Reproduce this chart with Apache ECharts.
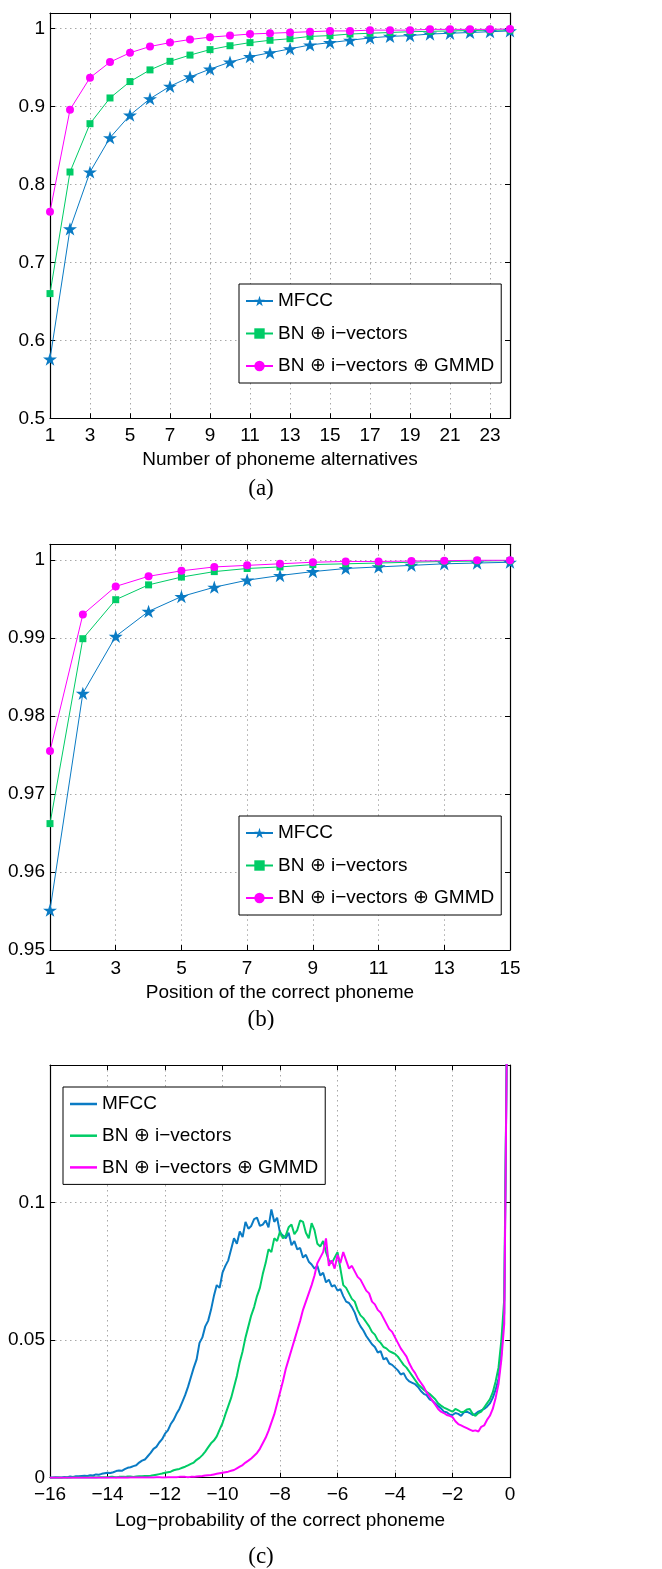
<!DOCTYPE html>
<html>
<head>
<meta charset="utf-8">
<script src="https://cdn.jsdelivr.net/npm/echarts@6/dist/echarts.min.js"></script>
<style>
html,body{margin:0;padding:0;background:#fff;}
.p{position:absolute;left:0;width:662px;}
</style>
</head>
<body>
<div id="pa" class="p" style="top:0;height:500px"></div>
<div id="pb" class="p" style="top:500px;height:530px"></div>
<div id="pc" class="p" style="top:1030px;height:539px"></div>
<script>
// ---------- DATA ----------
const seriesNames = ['MFCC', 'BN \u2295 i\u2212vectors', 'BN \u2295 i\u2212vectors \u2295 GMMD'];

// (a) Number of phoneme alternatives
const altX = [1,2,3,4,5,6,7,8,9,10,11,12,13,14,15,16,17,18,19,20,21,22,23,24];
const altMFCC = [0.576,0.743,0.816,0.860,0.889,0.910,0.926,0.938,0.948,0.957,0.964,0.969,0.974,0.979,0.982,0.985,0.988,0.990,0.991,0.993,0.994,0.995,0.996,0.997];
const altBN   = [0.660,0.816,0.878,0.911,0.932,0.947,0.958,0.966,0.973,0.978,0.982,0.985,0.987,0.990,0.991,0.993,0.994,0.995,0.996,0.9965,0.997,0.9975,0.998,0.998];
const altGMMD = [0.765,0.896,0.937,0.957,0.969,0.977,0.982,0.986,0.989,0.991,0.993,0.994,0.995,0.996,0.997,0.997,0.998,0.998,0.998,0.999,0.999,0.999,0.999,0.9995];

// (b) Position of the correct phoneme
const posX = [1,2,3,4,5,6,7,8,9,10,11,12,13,14,15];
const posMFCC = [0.9551,0.9829,0.9902,0.9934,0.9953,0.9965,0.9974,0.9980,0.9985,0.9989,0.9991,0.9993,0.9995,0.9996,0.9997];
const posBN   = [0.9662,0.9899,0.9949,0.9968,0.9978,0.9985,0.9989,0.9991,0.9994,0.9995,0.9996,0.9997,0.9998,0.99985,0.9999];
const posGMMD = [0.9755,0.9930,0.9966,0.9979,0.9986,0.9991,0.9993,0.9995,0.9997,0.9998,0.9998,0.99985,0.9999,0.99995,0.99995];

// (c) Log-probability of the correct phoneme, sampled every 0.1 from -16 to -0.1
const logX = Array.from({length:160}, (_, i) => +(-16 + 0.1 * i).toFixed(1));
const logMFCC = [
 0.0000,0.0001,0.0002,0.0001,0.0001,0.0003,0.0002,0.0004,0.0003,0.0005,
 0.0005,0.0006,0.0007,0.0006,0.0009,0.0008,0.0012,0.0011,0.0014,0.0016,
 0.0018,0.0017,0.0020,0.0024,0.0026,0.0025,0.0031,0.0036,0.0038,0.0042,
 0.0045,0.0055,0.0062,0.0066,0.0078,0.0090,0.0105,0.0112,0.0128,0.0140,
 0.0160,0.0172,0.0195,0.0210,0.0232,0.0250,0.0275,0.0300,0.0330,0.0365,
 0.0400,0.0430,0.0490,0.0510,0.0550,0.0570,0.0610,0.0660,0.0700,0.0690,
 0.0745,0.0770,0.0790,0.0830,0.0870,0.0850,0.0895,0.0875,0.0930,0.0905,
 0.0915,0.0940,0.0945,0.0915,0.0920,0.0935,0.0910,0.0975,0.0930,0.0945,
 0.0890,0.0880,0.0870,0.0890,0.0845,0.0860,0.0830,0.0835,0.0800,0.0810,
 0.0785,0.0775,0.0760,0.0770,0.0735,0.0745,0.0710,0.0720,0.0695,0.0700,
 0.0680,0.0685,0.0660,0.0640,0.0635,0.0620,0.0600,0.0570,0.0550,0.0535,
 0.0515,0.0500,0.0485,0.0475,0.0455,0.0460,0.0430,0.0435,0.0415,0.0410,
 0.0400,0.0390,0.0375,0.0380,0.0360,0.0350,0.0345,0.0340,0.0330,0.0315,
 0.0305,0.0300,0.0285,0.0280,0.0270,0.0260,0.0252,0.0240,0.0238,0.0230,
 0.0228,0.0235,0.0232,0.0225,0.0238,0.0240,0.0235,0.0228,0.0232,0.0240,
 0.0245,0.0250,0.0258,0.0270,0.0290,0.0320,0.0360,0.0450,0.0600,0.1700];
const logBN = [
 0.0000,0.0000,0.0000,0.0001,0.0000,0.0000,0.0001,0.0000,0.0001,0.0001,
 0.0001,0.0001,0.0001,0.0002,0.0001,0.0002,0.0001,0.0002,0.0002,0.0002,
 0.0002,0.0003,0.0003,0.0002,0.0003,0.0003,0.0003,0.0004,0.0004,0.0003,
 0.0004,0.0005,0.0005,0.0006,0.0006,0.0007,0.0009,0.0011,0.0013,0.0015,
 0.0018,0.0020,0.0022,0.0027,0.0030,0.0032,0.0036,0.0040,0.0045,0.0050,
 0.0055,0.0065,0.0072,0.0082,0.0095,0.0110,0.0125,0.0135,0.0150,0.0175,
 0.0198,0.0230,0.0260,0.0290,0.0330,0.0370,0.0420,0.0460,0.0510,0.0550,
 0.0590,0.0620,0.0660,0.0690,0.0740,0.0780,0.0830,0.0820,0.0870,0.0860,
 0.0895,0.0870,0.0880,0.0910,0.0920,0.0885,0.0900,0.0935,0.0930,0.0890,
 0.0870,0.0925,0.0900,0.0850,0.0840,0.0860,0.0820,0.0790,0.0780,0.0800,
 0.0820,0.0760,0.0700,0.0690,0.0670,0.0650,0.0640,0.0610,0.0590,0.0580,
 0.0565,0.0550,0.0530,0.0520,0.0500,0.0490,0.0475,0.0470,0.0460,0.0455,
 0.0450,0.0440,0.0425,0.0410,0.0400,0.0385,0.0370,0.0355,0.0340,0.0330,
 0.0320,0.0312,0.0305,0.0295,0.0285,0.0270,0.0262,0.0255,0.0250,0.0245,
 0.0240,0.0250,0.0245,0.0238,0.0240,0.0248,0.0250,0.0232,0.0225,0.0235,
 0.0240,0.0255,0.0270,0.0285,0.0310,0.0350,0.0400,0.0500,0.0650,0.1700];
const logGMMD = [
 0.0000,0.0000,0.0000,0.0000,0.0000,0.0000,0.0000,0.0000,0.0000,0.0000,
 0.0000,0.0000,0.0000,0.0000,0.0000,0.0000,0.0000,0.0000,0.0000,0.0000,
 0.0000,0.0000,0.0000,0.0000,0.0001,0.0000,0.0001,0.0000,0.0001,0.0001,
 0.0001,0.0001,0.0001,0.0001,0.0001,0.0001,0.0001,0.0002,0.0002,0.0001,
 0.0001,0.0002,0.0002,0.0002,0.0002,0.0003,0.0003,0.0003,0.0002,0.0003,
 0.0003,0.0004,0.0005,0.0006,0.0008,0.0009,0.0010,0.0012,0.0014,0.0016,
 0.0018,0.0020,0.0022,0.0025,0.0028,0.0034,0.0040,0.0046,0.0055,0.0062,
 0.0070,0.0080,0.0090,0.0105,0.0125,0.0145,0.0170,0.0200,0.0230,0.0270,
 0.0310,0.0350,0.0395,0.0430,0.0465,0.0500,0.0535,0.0570,0.0610,0.0640,
 0.0670,0.0700,0.0735,0.0780,0.0800,0.0820,0.0870,0.0770,0.0790,0.0760,
 0.0810,0.0780,0.0820,0.0790,0.0760,0.0770,0.0750,0.0730,0.0720,0.0700,
 0.0680,0.0670,0.0640,0.0630,0.0610,0.0600,0.0580,0.0560,0.0540,0.0530,
 0.0510,0.0490,0.0470,0.0455,0.0440,0.0415,0.0395,0.0380,0.0360,0.0345,
 0.0330,0.0310,0.0295,0.0280,0.0265,0.0250,0.0240,0.0235,0.0228,0.0225,
 0.0220,0.0205,0.0195,0.0190,0.0185,0.0180,0.0175,0.0170,0.0172,0.0168,
 0.0185,0.0190,0.0210,0.0225,0.0250,0.0290,0.0340,0.0430,0.0560,0.1700];

// ---------- STYLE ----------
const FONT = "'Liberation Sans',Arial,sans-serif";
const FS = 19;
const SERIF = "'Liberation Serif','DejaVu Serif',serif";
const COLORS = ['#0a7bc4', '#00cc66', '#ff00ff'];
const STAR = 'path://M50,0 L61.8,35.4 L99,35.4 L68.9,57.3 L80.4,92.7 L50,70.8 L19.6,92.7 L31.1,57.3 L1,35.4 L38.2,35.4 Z';
const SYMBOLS = [STAR, 'rect', 'circle'];
const SYMSIZE = [14, 7, 8];

function zip(xs, ys) { return xs.map((x, i) => [x, ys[i]]); }
function fmtNum(v) { return String(+v.toFixed(3)).replace('-', '\u2212'); }

function axisPair(kind, opt) {
  const base = {
    type: 'value', min: opt.min, max: opt.max, interval: opt.interval,
    axisLine: {show: true, onZero: false, lineStyle: {color: '#000', width: 1.2}},
    axisTick: {show: true, inside: true, length: 5, lineStyle: {color: '#000'}},
  };
  const main = Object.assign({}, base, {
    position: kind === 'x' ? 'bottom' : 'left',
    axisLabel: {show: true, color: '#000', fontFamily: FONT, fontSize: FS,
      margin: opt.margin, showMaxLabel: opt.showMax, formatter: fmtNum},
    splitLine: {show: true, lineStyle: {color: '#a8a8a8', type: [1.5, 3.5], width: 1}},
    name: opt.name || '', nameLocation: 'middle', nameGap: opt.nameGap || 0,
    nameTextStyle: {color: '#000', fontFamily: FONT, fontSize: FS}
  });
  const second = Object.assign({}, base, {
    position: kind === 'x' ? 'top' : 'right',
    axisLabel: {show: false}, splitLine: {show: false}
  });
  return [main, second];
}

function makeChart(id, cfg) {
  const chart = echarts.init(document.getElementById(id), null, {renderer: 'canvas'});
  const legend = {
    orient: 'vertical', left: cfg.legend.left, top: cfg.legend.top,
    data: seriesNames,
    backgroundColor: '#fff', borderColor: '#000', borderWidth: 1,
    padding: cfg.legend.padding, itemGap: cfg.legend.gap,
    itemWidth: 27, itemHeight: cfg.markers ? 13 : 2.5,
    textStyle: {color: '#000', fontFamily: FONT, fontSize: FS, lineHeight: 22},
    selectedMode: false
  };
  if (!cfg.markers) legend.icon = 'rect';
  const option = {
    animation: false,
    backgroundColor: '#fff',
    grid: {left: 50, width: 460, top: cfg.gridTop, height: cfg.gridH, show: false},
    xAxis: axisPair('x', cfg.x),
    yAxis: axisPair('y', cfg.y),
    legend: legend,
    graphic: [{
      type: 'text', x: cfg.caption.x, y: cfg.caption.y,
      style: {text: cfg.caption.text, font: '23px ' + SERIF, fill: '#000',
        align: 'center', verticalAlign: 'middle'}
    }],
    series: cfg.data.map((d, i) => ({
      name: seriesNames[i], type: 'line', xAxisIndex: 0, yAxisIndex: 0,
      data: d, clip: true,
      showSymbol: cfg.markers, symbol: cfg.markers ? SYMBOLS[i] : 'none',
      symbolSize: SYMSIZE[i], symbolKeepAspect: true,
      color: COLORS[i],
      itemStyle: {color: COLORS[i]},
      lineStyle: {color: COLORS[i], width: cfg.lineW},
      emphasis: {disabled: true}
    }))
  };
  chart.setOption(option);
  return chart;
}

makeChart('pa', {
  gridTop: 13, gridH: 405.3,
  x: {min: 1, max: 24, interval: 2, margin: 8, showMax: false, name: 'Number of phoneme alternatives', nameGap: 30},
  y: {min: 0.5, max: 1.02, interval: 0.1, margin: 5, showMax: false},
  legend: {left: 239, top: 284, padding: [6, 7, 6, 6], gap: 10.5},
  caption: {text: '(a)', x: 261, y: 489},
  markers: true, lineW: 1,
  data: [zip(altX, altMFCC), zip(altX, altBN), zip(altX, altGMMD)]
});

makeChart('pb', {
  gridTop: 44.3, gridH: 405.7,
  x: {min: 1, max: 15, interval: 2, margin: 9, showMax: true, name: 'Position of the correct phoneme', nameGap: 32},
  y: {min: 0.95, max: 1.002, interval: 0.01, margin: 5, showMax: false},
  legend: {left: 239, top: 316, padding: [6, 7, 6, 6], gap: 10.5},
  caption: {text: '(b)', x: 261, y: 520},
  markers: true, lineW: 1,
  data: [zip(posX, posMFCC), zip(posX, posBN), zip(posX, posGMMD)]
});

makeChart('pc', {
  gridTop: 35, gridH: 412.7,
  x: {min: -16, max: 0, interval: 2, margin: 8, showMax: true, name: 'Log\u2212probability of the correct phoneme', nameGap: 34},
  y: {min: 0, max: 0.15, interval: 0.05, margin: 5, showMax: false},
  legend: {left: 63, top: 57, padding: [6, 7, 6, 7], gap: 9.7},
  caption: {text: '(c)', x: 261, y: 526.7},
  markers: false, lineW: 2,
  data: [zip(logX, logMFCC), zip(logX, logBN), zip(logX, logGMMD)]
});
</script>
</body>
</html>
